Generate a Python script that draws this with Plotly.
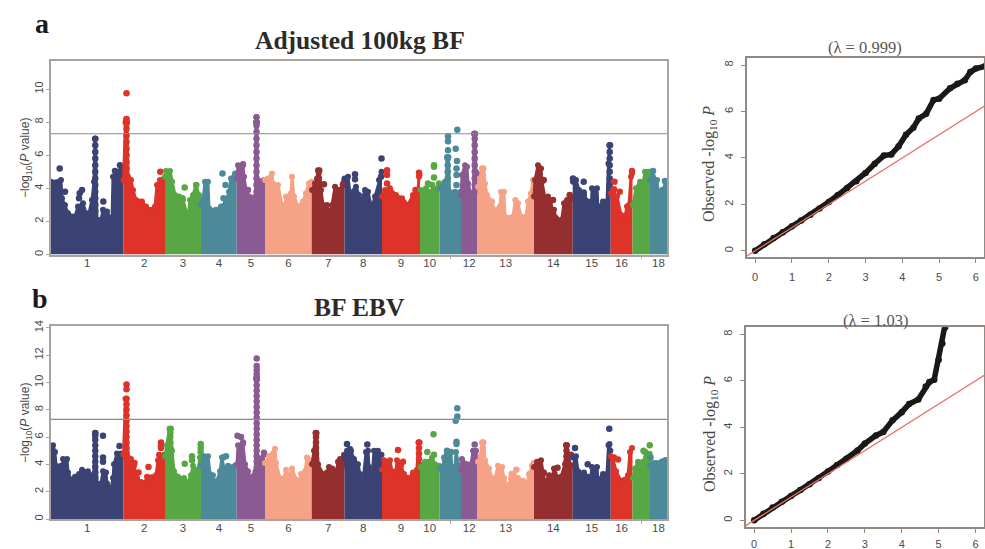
import numpy as np
import plotly.graph_objects as go

W, H = 985, 549

CHR_LABELS = ["1","2","3","4","5","6","7","8","9","10","","12","13","14","15","16","","18"]
CHR_SIZES = [72.3,41.7,36,35.7,28.3,46.7,32.8,37.5,38,19.5,21.5,16.5,56.5,38.7,38,21.8,17.5,17]
CHR_COLORS = ["#3A4374","#DD3329","#57A845","#4C8A9A","#8A5A92","#F6A286","#952E2E"]

# Upper outline of the dense cloud of points: (genome position, -log10 P)
A_TOP = [(0,4.4),(10,4.5),(11,3.4),(14,3.0),(17,2.5),(21,2.3),(24,2.3),(27,2.9),(32,3.1),(35,2.5),(38,2.5),(41,3.3),(43,4.4),(44,7.0),(44.5,7.0),(46,2.1),(50,2.1),(52,2.7),(56,2.6),(59,2.2),(61,2.2),(62,4.7),(68,5.0),(70,5.3),(72,4.6),
 (72.5,4.5),(74.5,8.0),(75.5,8.2),(76,8.0),(77,4.7),(80,4.5),(82,3.9),(85,3.3),(88,3.2),(91,3.2),(95,2.9),(100,2.7),(102,2.6),(104,2.9),(106,4.2),(109,4.5),(113,4.6),
 (114,4.7),(115,5.05),(119,5.05),(121,4.4),(124,3.6),(128,3.5),(132,3.3),(137,2.2),(139,3.3),(142,3.6),(145,4.2),(148,3.6),(149.5,3.3),
 (150,3.0),(152,3.3),(154,4.4),(157,4.4),(158,2.8),(165,2.7),(170,2.9),(175,3.2),(178,3.8),(180,4.6),(184,4.9),(185.5,4.9),
 (186,4.6),(187,5.4),(192,5.4),(193,4.7),(195,3.9),(198,3.5),(204.5,3.5),(205,8.0),(205.5,8.3),(206,8.0),(206.5,4.5),(213,4.5),
 (214,4.5),(217,4.6),(221,4.9),(222,4.3),(227,4.2),(231,3.0),(232,2.2),(235,3.5),(240,3.7),(241,4.7),(243,3.5),(247,2.9),(252,3.2),(255,3.7),(258,4.3),(260.5,4.4),
 (261,3.9),(264,4.3),(266,4.6),(267,5.1),(268.5,5.1),(270,3.9),(272,3.0),(276,3.0),(279,2.4),(281,3.0),(284,4.1),(288,3.9),(292,4.2),(293,4.4),
 (293.5,4.6),(297,4.7),(299,3.7),(305,4.1),(308,3.6),(310,3.1),(314,3.9),(317,3.8),(320.7,2.8),(324,3.5),(328,4.5),(330.5,5.0),
 (331,3.5),(334,3.9),(339,4.0),(345,3.6),(351,3.4),(357,3.0),(362,3.6),(367,3.9),(368,4.7),(368.5,4.8),
 (369.5,3.9),(375,4.0),(380,3.8),(383,4.0),(388,4.0),
 (388.5,4.0),(394,4.4),(395.5,4.4),(396,5.9),(397.5,5.9),(398.5,3.8),(404,3.8),(409.5,3.8),
 (410,3.6),(411,4.8),(414,5.4),(416,5.3),(417,4.3),(420,3.7),(422.5,3.5),(423,7.3),(424.3,7.3),(424.8,5.0),(426,4.9),
 (427,4.1),(429,4.6),(431,5.2),(432.5,5.2),(434,4.3),(436,3.6),(441,3.2),(443,2.7),(449,2.9),(450,3.8),(453,3.8),(454,2.3),(462,2.3),(464.3,3.3),(467,3.1),(470,2.3),(475,2.3),(477,3.2),(480,3.7),(482,4.5),
 (483,3.5),(484,4.5),(487,5.4),(490,5.2),(491,4.4),(494,3.4),(497,3.5),(499,3.0),(503,2.7),(505,2.2),(510.7,2.1),(513,3.1),(516,3.3),(521,3.4),
 (522,4.4),(525,4.5),(528,3.9),(533,3.6),(537,3.2),(540,2.3),(541,4.0),(546,4.0),(547,2.8),(552,3.2),(556,3.2),(557.5,5.5),(558.5,6.6),(559.3,6.6),
 (560,3.7),(562,3.8),(566,3.5),(570,2.4),(574,2.3),(576,2.9),(578,3.0),(580,4.7),(581,4.9),
 (582,3.0),(585,4.0),(589,4.4),(592,4.3),(594,5.0),(598,5.0),(598.5,4.9),
 (599,4.5),(602,4.7),(606,4.5),(608,3.3),(611,3.9),(615,4.3)]

# Isolated points standing clear of the outline
A_HITS = [(8.7,5.2),(14,3.8),(28,3.4),(28.7,3.7),(31,3.9),(52.3,3.2),(64,5.05),(69,5.4),
 (75.5,9.75),(105,2.9),(109.3,5.0),(131.5,3.4),(133.7,4.05),(145.3,4.2),(171.5,4.9),(174.5,4.2),(172.5,3.4),
 (192,5.45),(197,3.9),(205.5,8.3),(273,4.25),(292,4.25),(304,4.85),(304,4.55),(330.5,5.8),(330,4.7),
 (336,5.1),(336,4.8),(336,4.3),(368,4.95),(364.5,3.9),(383,5.4),(383,5.3),(383,4.65),(377,4.3),(381,4.2),(388,4.3),
 (397,7.15),(397,6.85),(397,6.3),(404.7,6.4),(406.3,7.55),(406,5.65),(405.5,5.2),(405.5,4.8),(405.5,4.2),
 (492.7,4.5),(502,3.3),(518.7,3.6),(522,4.6),(532.7,4.4),(532.7,3.75),(563.5,4.4),(563,3.95),(568.7,3.8),(581,5.05),(602,5.05),(614,4.45)]

# Tall stacks of points: position, then the heights seen in the stack
A_STACKS = [(44.25,[2.6,3.0,3.4,3.8,4.2,4.6,5.0,5.4,5.8,6.2,6.6,7.0]),
 (75.5,[4.8,5.2,5.6,6.0,6.4,6.8,7.2,7.6,7.9,8.2]),
 (205.5,[3.8,4.2,4.6,5.0,5.4,5.8,6.2,6.6,7.0,7.4,7.8,8.0]),
 (267.8,[4.2,4.6,5.0]),(396.7,[4.6,5.0,5.4,5.8]),
 (423.7,[3.8,4.2,4.6,5.0,5.4,5.8,6.2,6.6,7.0,7.3]),
 (431.8,[4.4,4.8,5.2]),(558.7,[3.8,4.2,4.6,5.0,5.4,5.8,6.2,6.6])]

B_TOP = [(0,4.7),(2,5.4),(4,4.9),(5,3.9),(10,3.9),(11,3.0),(12,4.4),(16,4.4),(17,3.4),(20,2.9),(24,3.1),(28,3.3),(31,3.6),(37,3.5),(39,3.2),(43,3.3),(44,6.3),(44.5,6.3),(46,2.6),(50,2.6),(52,3.5),(55,3.4),(56,2.6),(60,2.2),(62,3.0),(63,4.0),(66,4.8),(70,4.8),(72,4.6),
 (72.5,4.7),(74.5,8.8),(75.5,8.8),(77,4.5),(80,4.4),(83,3.9),(86,3.0),(90,2.7),(95,2.7),(96,3.1),(105,3.2),(107,4.3),(108,4.7),(113,4.7),
 (114,4.6),(116,5.4),(118.5,6.6),(120,6.6),(121,5.0),(123,3.5),(127,3.1),(133,3.0),(137,2.7),(140,3.2),(142,3.9),(144,3.6),(147,3.6),(149,4.5),(149.5,4.5),
 (150,3.9),(153,4.6),(157,4.6),(159,3.3),(162,3.2),(163,2.3),(166,2.8),(169,3.5),(171,4.5),(173,3.6),(177,3.9),(184,3.9),
 (186,4.0),(187,5.4),(192,5.5),(194,4.0),(197,3.5),(199,3.0),(204.5,3.5),(205,10.3),(206,10.3),(206.5,4.4),(213,4.7),
 (214,4.1),(218,4.6),(224,5.15),(225,4.1),(229,3.0),(232,2.8),(235,3.6),(238,3.1),(241,3.7),(245,2.9),(248,2.6),(250,3.3),(254,3.5),(256,4.5),(260,4.3),
 (261,4.0),(263,5.0),(264.5,6.3),(265.5,6.3),(267,4.0),(272,3.3),(276,3.4),(278,3.8),(281,3.7),(283,2.6),(285,3.5),(287,4.2),(289,4.4),(292,3.9),(293,4.7),
 (293.5,4.5),(296,5.0),(300,5.0),(303,4.4),(307,4.0),(309,3.3),(311,2.0),(315,4.9),(317,5.0),(318,3.8),(321,3.0),(323,5.0),(327,5.0),(328,4.7),(330.5,4.7),
 (331,3.6),(333,4.3),(339,4.3),(341,3.5),(345,3.5),(346,4.3),(350,3.9),(353,3.3),(358,3.0),(362,3.4),(366,3.6),(367.5,5.6),(368.5,5.6),
 (369.5,3.8),(374,4.2),(378,4.2),(381,4.5),(384,4.0),(388,3.9),
 (388.5,3.7),(392,3.8),(393,4.5),(396,4.9),(400,4.9),(401,3.5),(404,3.8),(405,4.9),(408,3.9),(409.5,3.7),
 (410,3.6),(411,4.4),(416,4.0),(420,4.0),(422,5.0),(425,5.0),(426,4.3),
 (427,4.2),(429.5,4.6),(431,5.6),(432.5,5.6),(434,4.3),(438,3.7),(442,2.8),(444,3.0),(447,3.9),(451,3.8),(453,3.0),(457,2.3),(460,3.0),(463,3.2),(467,3.0),(472,2.8),(476,2.6),(478,3.3),(481,3.9),(482.5,4.1),
 (483,3.8),(486,4.2),(490,4.3),(492,3.3),(494,2.6),(498,3.2),(501,3.0),(503,3.7),(507,3.0),(510,3.1),(514,4.0),(515,5.4),(516,5.4),(517,4.3),(521,3.9),
 (522,4.5),(525,4.6),(527,3.5),(533,3.4),(537,3.1),(539,2.7),(541,3.8),(546,3.8),(547,2.8),(552,3.3),(556,3.3),(557.5,5.4),(558.5,5.5),(559.3,5.0),
 (560,4.6),(562,4.4),(565,3.5),(570,2.8),(574,2.9),(577,3.2),(579,4.9),(581,5.2),
 (582,3.0),(584,3.7),(587,4.2),(592,4.2),(595,4.5),(598,4.2),(598.5,4.0),
 (599,3.9),(603,4.1),(606,4.1),(610,3.9),(612,4.2),(615,4.3)]

B_HITS = [(52,6.1),(52,4.5),(52,4.2),(68.5,5.35),(75.5,9.85),(75.5,9.5),(83.5,4.1),(87.5,3.4),(97.5,3.8),(110,5.6),(110,5.4),(110,5.2),
 (133.7,4.05),(141,4.6),(141,4.3),(149.7,5.5),(149.7,5.2),(149.7,4.9),(172,4.5),(175,4.6),
 (186.5,6.1),(190,6.0),(192,5.6),(205.7,11.75),(205.7,11.2),(205.7,10.9),(205.7,10.6),(213,4.85),
 (296,5.5),(299,5.1),(316.3,5.45),(347,5.05),(352,4.2),(376.3,4.9),(382.5,6.2),(383,4.7),
 (396,5.0),(400,4.9),(404.7,7.2),(405.5,5.65),(405.5,5.5),(406.3,8.1),(406.3,7.5),(423.7,5.45),(426,4.4),
 (460.7,3.3),(465.3,3.6),(492.7,3.4),(506.5,3.75),(520,4.7),(524,5.2),(536.7,4.0),(558.3,6.6),
 (563,4.5),(567,4.35),(592.5,5.0),(594,4.9),(598.8,5.4),(598.5,4.75),(599.5,4.5),(611,4.2),(614.5,4.3)]

B_STACKS = [(44.25,[3.0,3.4,3.8,4.2,4.6,5.0,5.4,5.8,6.1,6.3]),
 (75.5,[4.8,5.2,5.6,6.0,6.4,6.8,7.2,7.6,8.0,8.4,8.8]),
 (119.3,[4.8,5.2,5.6,6.0,6.3,6.6]),
 (205.7,[3.8,4.2,4.6,5.0,5.4,5.8,6.2,6.6,7.0,7.4,7.8,8.2,8.6,9.0,9.4,9.8,10.2,10.3]),
 (265,[4.4,4.8,5.2,5.6,6.0,6.3]),(368,[4.0,4.4,4.8,5.2,5.6]),
 (431.8,[4.4,4.8,5.2,5.6]),(515.5,[4.2,4.6,5.0,5.4])]

THRESHOLD = 7.3

QQ_A_EXPECTED = [0,0.25,0.5,0.75,1,1.25,1.5,1.75,2,2.25,2.5,2.75,3,3.25,3.5,3.7,3.9,4.1,4.3,4.45,4.65,4.85,5.0,5.3,5.5,5.7,5.85,6.0,6.25]
QQ_A_OBSERVED = [0,0.28,0.55,0.8,1.05,1.3,1.55,1.82,2.1,2.4,2.7,3.0,3.35,3.75,4.1,4.15,4.5,5.0,5.3,5.7,5.9,6.5,6.55,7.0,7.2,7.35,7.7,7.85,7.95]
QQ_B_EXPECTED = [0,0.25,0.5,0.75,1,1.25,1.5,1.75,2,2.25,2.5,2.8,3,3.3,3.5,3.75,4,4.2,4.45,4.65,4.75,4.88,5.0,5.1,5.18,5.25]
QQ_B_OBSERVED = [0,0.28,0.55,0.8,1.05,1.3,1.55,1.82,2.1,2.38,2.65,3.0,3.3,3.65,3.8,4.3,4.65,5.0,5.2,5.75,5.95,6.05,6.9,7.6,8.3,9.0]
QQ_TICKS_X = [0,1,2,3,4,5,6]
QQ_TICKS_Y = [0,2,4,6,8]

GRAY = "#a9a39e"
DARK = "#4a4a4a"
SERIF = "Liberation Serif"
SANS = "Liberation Sans"


def dom_x(a, b):
    return [a / W, b / W]


def dom_y(top, bottom):
    return [1 - bottom / H, 1 - top / H]


fig = go.Figure()
bounds = np.round(np.r_[0, np.cumsum(CHR_SIZES)], 1)
centers = (bounds[:-1] + bounds[1:]) / 2


def manhattan(top, hits, stacks, suffix):
    tx, ty = np.array(top, float).T
    stacked = [(x, y) for x, ys in stacks for y in ys]
    hx, hy = np.array(list(hits) + stacked, float).T
    for i in range(len(CHR_SIZES)):
        lo, hi = bounds[i], bounds[i + 1]
        c = CHR_COLORS[i % 7]
        m = (tx >= lo) & (tx < hi)
        xs, ys = tx[m], ty[m]
        fig.add_trace(go.Scatter(
            x=np.r_[lo, xs, hi], y=np.r_[ys[0], ys, ys[-1]],
            mode="lines", line=dict(color=c, width=3), fill="tozeroy", fillcolor=c,
            xaxis="x" + suffix, yaxis="y" + suffix, hoverinfo="skip"))
        fig.add_trace(go.Scatter(
            x=xs, y=ys, mode="markers", marker=dict(color=c, size=6),
            xaxis="x" + suffix, yaxis="y" + suffix, hoverinfo="skip"))
        m = (hx >= lo) & (hx < hi)
        if m.any():
            fig.add_trace(go.Scatter(
                x=hx[m], y=hy[m], mode="markers", marker=dict(color=c, size=6.5),
                xaxis="x" + suffix, yaxis="y" + suffix, hoverinfo="skip"))
    fig.add_trace(go.Scatter(
        x=[0, bounds[-1]], y=[THRESHOLD, THRESHOLD], mode="lines",
        line=dict(color="#8f8a85", width=1.2),
        xaxis="x" + suffix, yaxis="y" + suffix, hoverinfo="skip"))


def qq(ex, ob, suffix):
    fig.add_trace(go.Scatter(
        x=ex, y=ob, mode="lines+markers",
        line=dict(color="#1b1816", width=5.5),
        marker=dict(color="#1b1816", size=6.5),
        xaxis="x" + suffix, yaxis="y" + suffix, hoverinfo="skip"))
    fig.add_trace(go.Scatter(
        x=[-1, 7], y=[-1, 7], mode="lines", line=dict(color="#e8706a", width=1.3),
        xaxis="x" + suffix, yaxis="y" + suffix, hoverinfo="skip"))


manhattan(A_TOP, A_HITS, A_STACKS, "")
manhattan(B_TOP, B_HITS, B_STACKS, "2")
qq(QQ_A_EXPECTED, QQ_A_OBSERVED, "3")
qq(QQ_B_EXPECTED, QQ_B_OBSERVED, "4")

tick_pos = [float(c) for c, t in zip(centers, CHR_LABELS) if t]
tick_txt = [t for t in CHR_LABELS if t]
m_x = dict(range=[0, bounds[-1]], domain=dom_x(51, 667), showgrid=False, zeroline=False,
           showline=True, mirror=True, linecolor=GRAY, linewidth=1.5,
           tickmode="array", tickvals=tick_pos, ticktext=tick_txt, ticks="",
           tickfont=dict(family=SANS, size=11.5, color=DARK), ticklabelstandoff=-3,
           minor=dict(tickmode="array", tickvals=[float(centers[10]), float(centers[16])], ticks="outside",
                      ticklen=3, tickcolor=GRAY, tickwidth=1))
m_y = dict(showgrid=False, zeroline=False, showline=True, mirror=True, linecolor=GRAY, linewidth=1.5,
           ticks="outside", ticklen=3, tickcolor=GRAY, tickangle=-90,
           tickfont=dict(family=SANS, size=11, color=DARK), ticklabelstandoff=-1)
q_x = dict(showgrid=False, zeroline=False, showline=True, mirror=True, linecolor="#8e8984", linewidth=1.5,
           tickmode="array", tickvals=QQ_TICKS_X, ticks="outside", ticklen=4, tickcolor="#8e8984",
           tickfont=dict(family=SANS, size=11, color=DARK), ticklabelstandoff=5)
q_y = dict(showgrid=False, zeroline=False, showline=True, mirror=True, linecolor="#8e8984", linewidth=1.5,
           tickmode="array", tickvals=QQ_TICKS_Y, ticks="outside", ticklen=4, tickcolor="#8e8984", tickangle=-90,
           tickfont=dict(family=SANS, size=11, color=DARK), ticklabelstandoff=4)


def label(x, y, text, size, family=SERIF, color="#2e2a28", angle=0):
    fig.add_annotation(x=x / W, y=1 - y / H, xref="paper", yref="paper", text=text, showarrow=False,
                       font=dict(family=family, size=size, color=color), textangle=angle,
                       xanchor="center", yanchor="middle")


label(42, 23, "<b>a</b>", 28, color="#1c1a19")
label(40, 298, "<b>b</b>", 28, color="#1c1a19")
label(360, 40, "<b>Adjusted 100kg BF</b>", 25.5)
label(359, 307, "<b>BF EBV</b>", 25.5)
label(865, 48, "(λ = 0.999)", 16.5, color="#5a5654")
label(875, 320, "(λ = 1.03)", 16.5, color="#5a5654")
ylab = "−log<sub>10</sub>(<i>P</i> value)"
label(26, 158, ylab, 12, family=SANS, color=DARK, angle=-90)
label(26, 423, ylab, 12, family=SANS, color=DARK, angle=-90)
olab = "Observed -log<sub>10</sub> <i>P</i>"
label(710, 164, olab, 16, color="#4a4745", angle=-90)
label(710, 434, olab, 16, color="#4a4745", angle=-90)

fig.update_layout(
    width=W, height=H, autosize=False, margin=dict(l=0, r=0, t=0, b=0, autoexpand=False),
    paper_bgcolor="white", plot_bgcolor="white", showlegend=False,
    xaxis=dict(m_x, anchor="y"),
    yaxis=dict(m_y, range=[0, 11.7], domain=dom_y(61, 254.5), tickvals=[0, 2, 4, 6, 8, 10], anchor="x"),
    xaxis2=dict(m_x, anchor="y2"),
    yaxis2=dict(m_y, range=[0, 14.13], domain=dom_y(326, 519), tickvals=[0, 2, 4, 6, 8, 10, 12, 14], anchor="x2"),
    xaxis3=dict(q_x, range=[-0.23, 6.23], domain=dom_x(746.7, 984.3), anchor="y3"),
    yaxis3=dict(q_y, range=[-0.27, 8.32], domain=dom_y(57.7, 257), anchor="x3"),
    xaxis4=dict(q_x, range=[-0.23, 6.23], domain=dom_x(745.7, 984), anchor="y4", ticklabelstandoff=2),
    yaxis4=dict(q_y, range=[-0.3, 8.3], domain=dom_y(327.3, 527.3), anchor="x4"),
)

fig.write_html("out.html", config=dict(displayModeBar=False),
               post_script="document.body.style.margin='0';document.documentElement.style.overflow='hidden';")
